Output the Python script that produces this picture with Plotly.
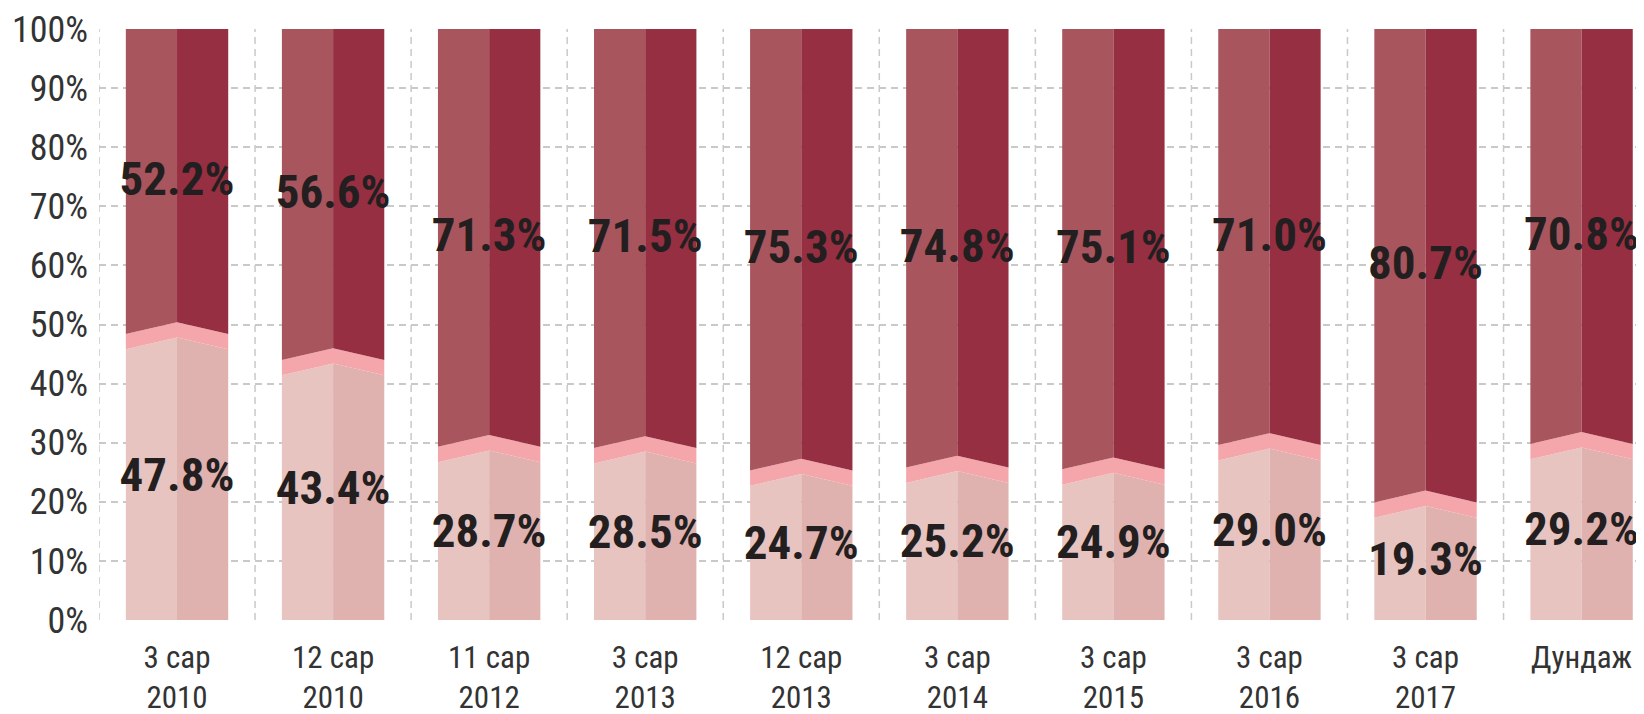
import plotly.graph_objects as go

# ---- data ----
categories = ["3 сар<br>2010", "12 сар<br>2010", "11 сар<br>2012", "3 сар<br>2013",
              "12 сар<br>2013", "3 сар<br>2014", "3 сар<br>2015", "3 сар<br>2016",
              "3 сар<br>2017", "Дундаж"]
bottom_share = [47.8, 43.4, 28.7, 28.5, 24.7, 25.2, 24.9, 29.0, 19.3, 29.2]
top_share = [52.2, 56.6, 71.3, 71.5, 75.3, 74.8, 75.1, 71.0, 80.7, 70.8]
y_ticks = [0, 10, 20, 30, 40, 50, 60, 70, 80, 90, 100]

# ---- styling ----
HALF = 0.328          # half bar width in category units
EDGE_DROP = 2.0       # chevron drop at bar edges (percentage points)
BAND_TOP_C = 2.6      # pink band top at center above value
BAND_TOP_E = 0.6      # pink band top at edges above value
C_LIGHT_L = "#e8c4c1"
C_LIGHT_R = "#dfb1af"
C_PINK = "#f4a6ab"
C_DARK_L = "#a9555d"
C_DARK_R = "#962f41"
LABEL_FONT = "Roboto Condensed, Roboto, sans-serif"

fig = go.Figure()


def poly_trace(xs, ys, color):
    fig.add_trace(go.Scatter(x=xs, y=ys, mode="lines", fill="toself", fillcolor=color,
                             line=dict(width=0, color=color), hoverinfo="skip",
                             showlegend=False))


lx, ly, rx, ry, px, py, dlx, dly, drx, dry = ([] for _ in range(10))
for i, v in enumerate(bottom_share):
    xl, xc, xr = i - HALF, i, i + HALF
    # light bottom halves
    lx += [xl, xl, xc, xc, xl, None]
    ly += [0, v - EDGE_DROP, v, 0, 0, None]
    rx += [xc, xc, xr, xr, xc, None]
    ry += [0, v, v - EDGE_DROP, 0, 0, None]
    # pink chevron band
    px += [xl, xc, xr, xr, xc, xl, xl, None]
    py += [v - EDGE_DROP, v, v - EDGE_DROP, v + BAND_TOP_E, v + BAND_TOP_C, v + BAND_TOP_E,
           v - EDGE_DROP, None]
    # dark top halves
    dlx += [xl, xl, xc, xc, xl, None]
    dly += [v + BAND_TOP_E, 100, 100, v + BAND_TOP_C, v + BAND_TOP_E, None]
    drx += [xc, xc, xr, xr, xc, None]
    dry += [v + BAND_TOP_C, 100, 100, v + BAND_TOP_E, v + BAND_TOP_C, None]

poly_trace(lx, ly, C_LIGHT_L)
poly_trace(rx, ry, C_LIGHT_R)
poly_trace(px, py, C_PINK)
poly_trace(dlx, dly, C_DARK_L)
poly_trace(drx, dry, C_DARK_R)

xs = list(range(len(categories)))
fig.add_trace(go.Scatter(
    x=xs, y=[(100 + v) / 2 for v in bottom_share], mode="text",
    text=[f"{t:.1f}%" for t in top_share], textposition="middle center",
    textfont=dict(family=LABEL_FONT, size=47, color="#231f20", weight="bold"),
    hoverinfo="skip", showlegend=False))
fig.add_trace(go.Scatter(
    x=xs, y=[v / 2 for v in bottom_share], mode="text",
    text=[f"{b:.1f}%" for b in bottom_share], textposition="middle center",
    textfont=dict(family=LABEL_FONT, size=47, color="#231f20", weight="bold"),
    hoverinfo="skip", showlegend=False))

# the page body has an 8px margin, so the figure is offset by 8px
fig.update_layout(
    width=1644, height=714,
    margin=dict(l=91, r=8, t=21, b=102),
    paper_bgcolor="white", plot_bgcolor="white",
    font=dict(family=LABEL_FONT, color="#333333"),
    xaxis=dict(range=[-0.5, 9.40], tickvals=xs, ticktext=categories,
               showgrid=False, zeroline=False, showline=False, ticks="",
               automargin=False, ticklabelstandoff=16, ticklabeloverflow="allow",
               tickfont=dict(size=31, color="#333333"), fixedrange=True),
    yaxis=dict(range=[0, 100], tickvals=y_ticks, ticktext=[f"{t}%" for t in y_ticks],
               showgrid=True, gridcolor="#c9c9c9", griddash="7px,5px", gridwidth=1.5,
               zeroline=False, showline=False, ticks="",
               automargin=False, ticklabelstandoff=10, ticklabeloverflow="allow",
               tickfont=dict(size=36, color="#333333"), fixedrange=True),
)

# vertical dashed separators between categories
for b in [i - 0.5 for i in range(len(categories))]:
    fig.add_shape(type="line", xref="x", yref="y", x0=b, x1=b, y0=0, y1=100,
                  line=dict(color="#c9c9c9", width=1.5, dash="7px,5px"), layer="below")

fig.write_html("out.html")
